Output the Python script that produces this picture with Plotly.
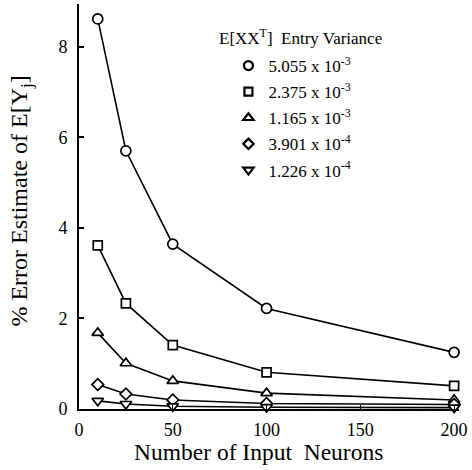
import plotly.graph_objects as go

neurons = [10, 25, 50, 100, 200]

variance_labels = [
    "5.055 x 10<sup>-3</sup>",
    "2.375 x 10<sup>-3</sup>",
    "1.165 x 10<sup>-3</sup>",
    "3.901 x 10<sup>-4</sup>",
    "1.226 x 10<sup>-4</sup>",
]

err_5055e3 = [8.61, 5.70, 3.64, 2.22, 1.25]
err_2375e3 = [3.61, 2.33, 1.41, 0.81, 0.51]
err_1165e3 = [1.68, 1.01, 0.62, 0.35, 0.20]
err_3901e4 = [0.54, 0.33, 0.20, 0.12, 0.10]
err_1226e4 = [0.18, 0.11, 0.06, 0.04, 0.03]

series = [err_5055e3, err_2375e3, err_1165e3, err_3901e4, err_1226e4]
symbols = ["circle", "square", "triangle-up", "diamond", "triangle-down"]
sizes = [10, 9, 10, 9, 10]

x_ticks = [0, 50, 100, 150, 200]
y_ticks = [0, 2, 4, 6, 8]

FONT = "Liberation Serif, Times New Roman, serif"

fig = go.Figure()
for vals, sym, sz in zip(series, symbols, sizes):
    fig.add_trace(go.Scatter(
        x=neurons, y=vals, mode="lines+markers",
        line=dict(color="black", width=1.6),
        marker=dict(symbol=sym, size=sz, color="white",
                    line=dict(color="black", width=1.7)),
        showlegend=False, cliponaxis=False,
    ))
for sym, sz, lab in zip(symbols, sizes, variance_labels):
    fig.add_trace(go.Scatter(
        x=[None], y=[None], mode="markers", name=lab, legendgroup=lab,
        marker=dict(symbol=sym, size=sz - 1, color="white",
                    line=dict(color="black", width=2.2)),
    ))

fig.update_layout(
    width=472, height=470,
    margin=dict(l=79, r=9, t=4, b=61),
    paper_bgcolor="white", plot_bgcolor="white",
    font=dict(family=FONT, color="black", size=18),
    showlegend=True,
    legend=dict(
        x=(230 - 79) / 384, y=1 - (48 - 4) / 405, xanchor="left", yanchor="top",
        font=dict(family=FONT, size=17, color="black"),
        bgcolor="rgba(0,0,0,0)", traceorder="grouped", tracegroupgap=1,
        itemwidth=30,
    ),
    xaxis=dict(
        range=[0, 202.6], tickvals=x_ticks, ticktext=[str(v) for v in x_ticks],
        showgrid=False, zeroline=False, showline=True, linecolor="black", linewidth=2,
        ticks="inside", ticklen=4, tickwidth=1, tickcolor="black",
        tickfont=dict(family=FONT, size=18), ticklabelstandoff=3,
    ),
    yaxis=dict(
        range=[0, 8.94], tickvals=y_ticks, ticktext=[str(v) for v in y_ticks],
        showgrid=False, zeroline=False, showline=True, linecolor="black", linewidth=2,
        ticks="inside", ticklen=5, tickwidth=1.5, tickcolor="black",
        tickfont=dict(family=FONT, size=18), ticklabelstandoff=6,
    ),
    annotations=[
        dict(text="Number of Input\u00a0\u00a0Neurons", xref="paper", yref="paper",
             x=(260 - 79) / 384, y=-(452 - 409) / 405, xanchor="center", yanchor="middle",
             showarrow=False, font=dict(family=FONT, size=23.5)),
        dict(text="% Error Estimate of E[Y<sub>j</sub>]", xref="paper", yref="paper",
             x=-(79 - 20) / 384, y=(409 - 201) / 405, xanchor="center", yanchor="middle",
             textangle=-90, showarrow=False, font=dict(family=FONT, size=24)),
        dict(text="E[XX<sup>T</sup>]\u00a0\u00a0Entry Variance", xref="paper", yref="paper",
             x=(218 - 79) / 384, y=(409 - 37) / 405, xanchor="left", yanchor="middle",
             showarrow=False, font=dict(family=FONT, size=17)),
    ],
)

fig.write_html("out.html")
